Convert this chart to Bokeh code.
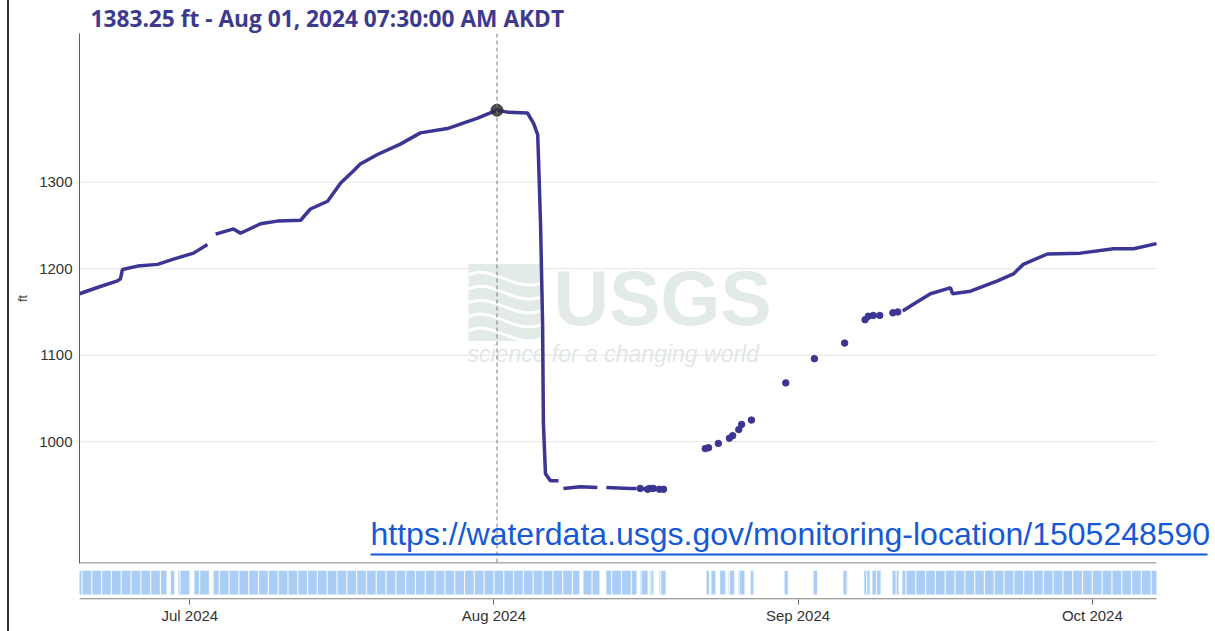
import numpy as np
import pandas as pd
from bokeh.plotting import figure
from bokeh.models import (Range1d, FixedTicker, Span, Label, ColumnDataSource,
                          DatetimeTickFormatter, PolyAnnotation)
from bokeh.layouts import column
from bokeh.embed import file_html
from bokeh.resources import INLINE

# ---------------- data ----------------
times = [
    "2024-06-19 18:00", "2024-06-21 12:00", "2024-06-23 15:00", "2024-06-23 22:00",
    "2024-06-24 03:00", "2024-06-25 16:00", "2024-06-27 17:00", "2024-06-29 08:00",
    "2024-07-01 09:00", "2024-07-02 19:00", None,
    "2024-07-03 15:00", "2024-07-05 11:00", "2024-07-06 04:00", "2024-07-08 05:00",
    "2024-07-09 22:00", "2024-07-12 07:00", "2024-07-13 07:00", "2024-07-15 01:00",
    "2024-07-16 09:00", "2024-07-17 16:00", "2024-07-18 09:00", "2024-07-20 03:00",
    "2024-07-22 11:00", "2024-07-24 12:00", "2024-07-27 06:00", "2024-07-30 08:00",
    "2024-08-01 07:30", "2024-08-02 09:00", "2024-08-04 10:00", "2024-08-05 01:00",
    "2024-08-05 11:00", "2024-08-05 13:00", "2024-08-05 18:00", "2024-08-05 23:00",
    "2024-08-06 01:00", "2024-08-06 06:00", "2024-08-06 18:00", "2024-08-07 14:00", None,
    "2024-08-08 02:00", "2024-08-09 20:00", "2024-08-11 13:00", None,
    "2024-08-12 11:00", "2024-08-14 22:00", "2024-08-15 13:00", None,
    "2024-08-15 22:00", "2024-08-16 16:00", None,
    "2024-08-16 21:00", "2024-08-17 06:00", None,
    "2024-08-17 21:00", "2024-08-18 07:00", None,
    "2024-08-22 13:00", "2024-08-22 21:00", None,
    "2024-08-23 21:00", None,
    "2024-08-25 00:00", "2024-08-25 08:00", None,
    "2024-08-25 23:00", "2024-08-26 06:00", None,
    "2024-08-27 06:00", None,
    "2024-08-30 18:00", None,
    "2024-09-02 16:00", None,
    "2024-09-05 18:00", None,
    "2024-09-07 20:00", "2024-09-08 04:00", None,
    "2024-09-08 16:00", "2024-09-09 08:00", None,
    "2024-09-10 16:00", "2024-09-11 04:00", None,
    "2024-09-11 16:00", "2024-09-12 18:00", "2024-09-14 12:00", "2024-09-16 06:00",
    "2024-09-16 13:00", "2024-09-16 18:00", "2024-09-18 14:00", "2024-09-21 08:00",
    "2024-09-22 23:00", "2024-09-23 23:00", "2024-09-26 10:00", "2024-09-29 19:00",
    "2024-10-03 04:00", "2024-10-05 05:00", "2024-10-07 13:00",
]
levels = [
    1171, 1178, 1186, 1188,
    1199, 1203, 1205, 1211,
    1218, 1228, None,
    1240, 1246, 1241, 1252,
    1255, 1256, 1269, 1278,
    1299, 1313, 1321, 1332,
    1344, 1357, 1362, 1374,
    1383.25, 1381, 1380, 1368,
    1355, 1328, 1252, 1136,
    1021, 963, 955, 955, None,
    946, 948, 947, None,
    947, 946, 946, None,
    946, 945, None,
    946, 946, None,
    945, 945, None,
    992, 993, None,
    998, None,
    1004, 1007, None,
    1014, 1020, None,
    1025, None,
    1068, None,
    1096, None,
    1114, None,
    1141, 1145, None,
    1146, 1146, None,
    1149, 1150, None,
    1151, 1159, 1171, 1177,
    1178, 1171, 1174, 1186,
    1194, 1205, 1217, 1218,
    1223, 1223, 1229,
]

highlight_time = "2024-08-01 07:30"
highlight_level = 1383.25

avail_start = [
    "2024-06-19 00:00", "2024-06-28 23:45", "2024-06-29 20:00", "2024-07-01 11:00",
    "2024-07-03 10:00", "2024-08-10 03:00", "2024-08-12 11:00", "2024-08-15 22:00",
    "2024-08-16 21:00", "2024-08-17 21:00", "2024-08-22 16:00", "2024-08-23 04:00",
    "2024-08-24 00:00", "2024-08-24 22:00", "2024-08-25 22:00", "2024-08-27 04:00",
    "2024-08-30 15:00", "2024-09-02 14:00", "2024-09-05 15:00", "2024-09-07 18:00",
    "2024-09-08 14:00", "2024-09-10 15:00", "2024-09-11 15:00",
]
avail_end = [
    "2024-06-28 15:00", "2024-06-29 10:00", "2024-07-01 01:00", "2024-07-03 00:00",
    "2024-08-09 17:00", "2024-08-11 18:00", "2024-08-15 13:00", "2024-08-16 16:00",
    "2024-08-17 06:00", "2024-08-18 12:00", "2024-08-22 23:00", "2024-08-23 14:00",
    "2024-08-24 14:00", "2024-08-25 12:00", "2024-08-26 13:00", "2024-08-27 11:00",
    "2024-08-31 00:30", "2024-09-02 23:30", "2024-09-06 01:00", "2024-09-08 07:00",
    "2024-09-09 10:00", "2024-09-11 06:00", "2024-10-07 13:00",
]

y_ticks = [1000, 1100, 1200, 1300]
x_ticks = ["2024-07-01", "2024-08-01", "2024-09-01", "2024-10-01"]
y_label = "ft"
title_text = "1383.25 ft - Aug 01, 2024 07:30:00 AM AKDT"
url_text = "https://waterdata.usgs.gov/monitoring-location/1505248590"


def ms(t):
    return pd.Timestamp(t).value / 1e6


# ---------------- geometry (page pixels) ----------------
X0, X1 = ms("2024-06-19 18:00"), ms("2024-10-07 13:00")
Y_BOT, Y_TOP = 859.2, 1471.9
FL, FR, FT, FB = 79, 1156, 32, 563   # chart frame edges
CANVAS_L = 9                          # after the 2px page border at x=7
CANVAS_R = 1210                       # canvases extend right for the url overlay


def px_x(px):
    return X0 + (px - FL) / (FR - FL) * (X1 - X0)


def px_y(py):
    return Y_TOP - (py - FT) / (FB - FT) * (Y_TOP - Y_BOT)


LINE_COL = "#3b3594"
AXIS_COL = "#5e5e5e"
xr = Range1d(X0, px_x(CANVAS_R))

t_arr = np.array([ms(t) if t is not None else np.nan for t in times], dtype=float)
v_arr = np.array([v if v is not None else np.nan for v in levels], dtype=float)
src = ColumnDataSource(data=dict(t=t_arr, v=v_arr))

# points belonging to very short runs get a visible dot
ok = ~np.isnan(v_arr)
short = np.zeros(len(v_arr), dtype=bool)
i = 0
while i < len(v_arr):
    if ok[i]:
        j = i
        while j < len(v_arr) and ok[j]:
            j += 1
        if j - i <= 2:
            short[i:j] = True
        i = j
    else:
        i += 1
dots = ColumnDataSource(data=dict(t=t_arr[short], v=v_arr[short]))

# ---------------- main figure ----------------
p1 = figure(width=CANVAS_R - CANVAS_L, height=567, x_axis_type="datetime",
            x_range=xr, y_range=Range1d(Y_BOT, Y_TOP),
            output_backend="svg", toolbar_location=None,
            min_border_left=FL - CANVAS_L, min_border_right=0, min_border_top=FT,
            min_border_bottom=4)
p1.title.text = title_text
p1.title.align = "left"
p1.title.offset = 11
p1.title.standoff = 0
p1.title.text_font = "Open Sans"
p1.title.text_font_size = "22.7px"
p1.title.text_font_style = "bold"
p1.title.text_color = "#3d3a8e"

p1.outline_line_color = None
p1.background_fill_color = "white"
p1.border_fill_color = "white"
p1.grid.visible = False
p1.xaxis.visible = False

p1.yaxis.ticker = FixedTicker(ticks=y_ticks)
p1.yaxis.axis_line_color = AXIS_COL
p1.yaxis.major_tick_out = 0
p1.yaxis.major_tick_in = 0
p1.yaxis.minor_tick_out = 0
p1.yaxis.minor_tick_in = 0
p1.yaxis.major_label_standoff = 7
p1.yaxis.major_label_text_font = "Liberation Sans"
p1.yaxis.major_label_text_font_size = "15px"
p1.yaxis.major_label_text_color = "#333333"
p1.yaxis.axis_label = y_label
p1.yaxis.axis_label_text_font = "Liberation Sans"
p1.yaxis.axis_label_text_font_style = "normal"
p1.yaxis.axis_label_text_font_size = "12px"
p1.yaxis.axis_label_text_color = "#333333"
p1.yaxis.axis_label_standoff = 6

# horizontal grid lines and bottom edge, ending where the chart data ends
p1.segment(x0=X0, x1=X1, y0=y_ticks, y1=y_ticks, line_color="#e4e4e4",
           line_width=1, level="underlay")
p1.segment(x0=[X0], x1=[X1], y0=[px_y(562.5)], y1=[px_y(562.5)],
           line_color=AXIS_COL, line_width=1)

# watermark (USGS logo)
wm_col = "#e3ebe6"
p1.quad(left=[px_x(468)], right=[px_x(540)], bottom=[px_y(340)], top=[px_y(263)],
        fill_color=wm_col, line_color=None, level="underlay")
for k in range(5):
    yb = 268 + k * 14
    p1.bezier(x0=[px_x(468)], y0=[px_y(yb + 6)], x1=[px_x(540)], y1=[px_y(yb + 14)],
              cx0=[px_x(490)], cy0=[px_y(yb - 6)], cx1=[px_x(515)], cy1=[px_y(yb + 24)],
              line_color="white", line_width=3, level="underlay")
p1.add_layout(Label(x=px_x(553), y=px_y(340), text="USGS", text_font="Liberation Sans",
                    text_font_size="77px", text_font_style="bold",
                    text_color=wm_col, level="underlay"))
p1.add_layout(Label(x=px_x(467), y=px_y(366), text="science for a changing world",
                    text_font="Liberation Sans", text_font_size="23px",
                    text_font_style="italic", text_color="#e2e7e6",
                    level="underlay"))

# data
p1.line("t", "v", source=src, line_color=LINE_COL, line_width=3.5)
p1.scatter("t", "v", source=dots, size=6.5, color=LINE_COL)

# highlight
p1.add_layout(Span(location=ms(highlight_time), dimension="height",
                   line_color="#7a7a7a", line_dash="4 3", line_width=1))
p1.scatter(x=[ms(highlight_time)], y=[highlight_level], size=12,
           color="#2e2e2e", alpha=0.85)

# url overlay
p1.add_layout(Label(x=px_x(370), y=px_y(551), text=url_text,
                    text_font="Liberation Sans", text_font_size="32px",
                    text_color="#1659d6"))
p1.add_layout(PolyAnnotation(xs=[px_x(370), px_x(1207), px_x(1207), px_x(370)],
                             ys=[px_y(553), px_y(553), px_y(555), px_y(555)],
                             fill_color="#1659d6", fill_alpha=1, line_color=None))

# ---------------- availability strip ----------------
p2 = figure(width=CANVAS_R - CANVAS_L, height=64, x_axis_type="datetime",
            x_range=xr, y_range=Range1d(0, 1), output_backend="svg",
            toolbar_location=None, min_border_left=FL - CANVAS_L, min_border_right=0,
            min_border_top=3, min_border_bottom=32)
p2.title.visible = False
p2.outline_line_color = None
p2.grid.visible = False
p2.yaxis.visible = False
BAR_B, BAR_T = 0.172, 1.0
p2.quad(left=[ms(s) for s in avail_start], right=[ms(e) for e in avail_end],
        bottom=BAR_B, top=BAR_T, fill_color="#a9cdf5", line_color=None)
midnights = [d.value / 1e6 for d in pd.date_range("2024-06-20", "2024-10-07", freq="D")]
p2.segment(x0=midnights, y0=BAR_B, x1=midnights, y1=BAR_T,
           line_color="white", line_width=1.2, line_alpha=0.85)
# bottom axis line, ending where the chart ends
p2.segment(x0=[X0], x1=[X1], y0=[0.02], y1=[0.02], line_color=AXIS_COL, line_width=1)

p2.xaxis.ticker = FixedTicker(ticks=[ms(t) for t in x_ticks])
fmt = "%b %Y"
p2.xaxis.formatter = DatetimeTickFormatter(months=fmt, days=fmt, hours=fmt,
                                           years=fmt, minutes=fmt)
p2.xaxis.axis_line_color = None
p2.xaxis.major_tick_line_color = AXIS_COL
p2.xaxis.major_tick_out = 5
p2.xaxis.major_tick_in = 0
p2.xaxis.minor_tick_out = 0
p2.xaxis.minor_tick_in = 0
p2.xaxis.major_label_standoff = 2
p2.xaxis.major_label_text_font = "Liberation Sans"
p2.xaxis.major_label_text_font_size = "15px"
p2.xaxis.major_label_text_color = "#333333"

layout = column(p1, p2, spacing=0,
                styles={"border-left": "2px solid #333333", "margin-left": "7px"})

open("out.html", "w").write(file_html(layout, INLINE))
